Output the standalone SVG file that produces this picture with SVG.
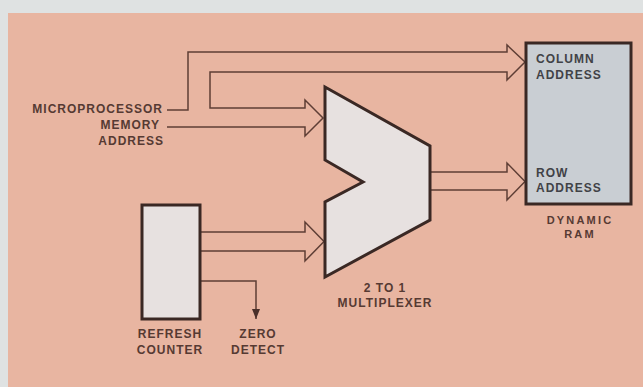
<svg xmlns="http://www.w3.org/2000/svg" width="643" height="387" viewBox="0 0 643 387">
<style>
.lbl{font-family:"Liberation Sans",Arial,sans-serif;font-weight:bold;font-size:12px;letter-spacing:1px;fill:#563a33}
.sm{font-size:11px;letter-spacing:2.2px}
.ram{fill:#414247}
.box{stroke:#3a2824;stroke-width:3;stroke-linejoin:miter}
.wire{fill:none;stroke:#5e3e35;stroke-width:1.5;stroke-linejoin:miter}
</style>
<defs>
<marker id="tri" viewBox="0 0 10 8" refX="10" refY="4" markerWidth="10" markerHeight="8" markerUnits="userSpaceOnUse" orient="auto">
<path d="M0,0 L10,4 L0,8 Z" fill="#4a302a"/>
</marker>
</defs>
<rect x="0" y="0" width="643" height="387" fill="#dfe2e2"/>
<rect x="8" y="13" width="635" height="374" fill="#e8b5a1"/>

<g id="connectors">
<path class="wire" d="M167,110 H188 V52 H507 V45 L525,62 L507,80 V72 H210 V108 H305 V100 L323,118 L305,136 V127 H167"/>
<path class="wire" d="M431,172 H507 V163 L525,181.5 L507,200 V190 H431"/>
<path class="wire" d="M201,232 H305 V222 L324,241.5 L305,261 V251 H201"/>
<path class="wire" d="M201,281 H256 V319" marker-end="url(#tri)"/>
</g>

<g id="mux">
<polygon class="box" points="325,87 430,146 430,220 325,277 325,202 363,182 325,160" fill="#e7e1e0"/>
<text class="lbl" x="385" y="291.5" text-anchor="middle">2 TO 1</text>
<text class="lbl" x="385" y="307" text-anchor="middle">MULTIPLEXER</text>
</g>

<g id="refresh-counter">
<rect class="box" x="142" y="205" width="58" height="114" fill="#e7e1e0"/>
<text class="lbl" x="170" y="338" text-anchor="middle">REFRESH</text>
<text class="lbl" x="170" y="354" text-anchor="middle">COUNTER</text>
</g>

<g id="zero-detect">
<text class="lbl" x="258" y="338" text-anchor="middle">ZERO</text>
<text class="lbl" x="258" y="354" text-anchor="middle">DETECT</text>
</g>

<g id="mpu-address">
<text class="lbl" x="163" y="113" text-anchor="end">MICROPROCESSOR</text>
<text class="lbl" x="160" y="128.5" text-anchor="end">MEMORY</text>
<text class="lbl" x="164" y="145" text-anchor="end">ADDRESS</text>
</g>

<g id="dynamic-ram">
<rect class="box" x="526" y="43" width="105" height="161" fill="#c9ced3"/>
<text class="lbl ram" x="536" y="62.5">COLUMN</text>
<text class="lbl ram" x="536" y="78.5">ADDRESS</text>
<text class="lbl ram" x="536" y="177">ROW</text>
<text class="lbl ram" x="536" y="192">ADDRESS</text>
<text class="lbl sm" x="580" y="224" text-anchor="middle">DYNAMIC</text>
<text class="lbl sm" x="580" y="237.5" text-anchor="middle">RAM</text>
</g>
</svg>
